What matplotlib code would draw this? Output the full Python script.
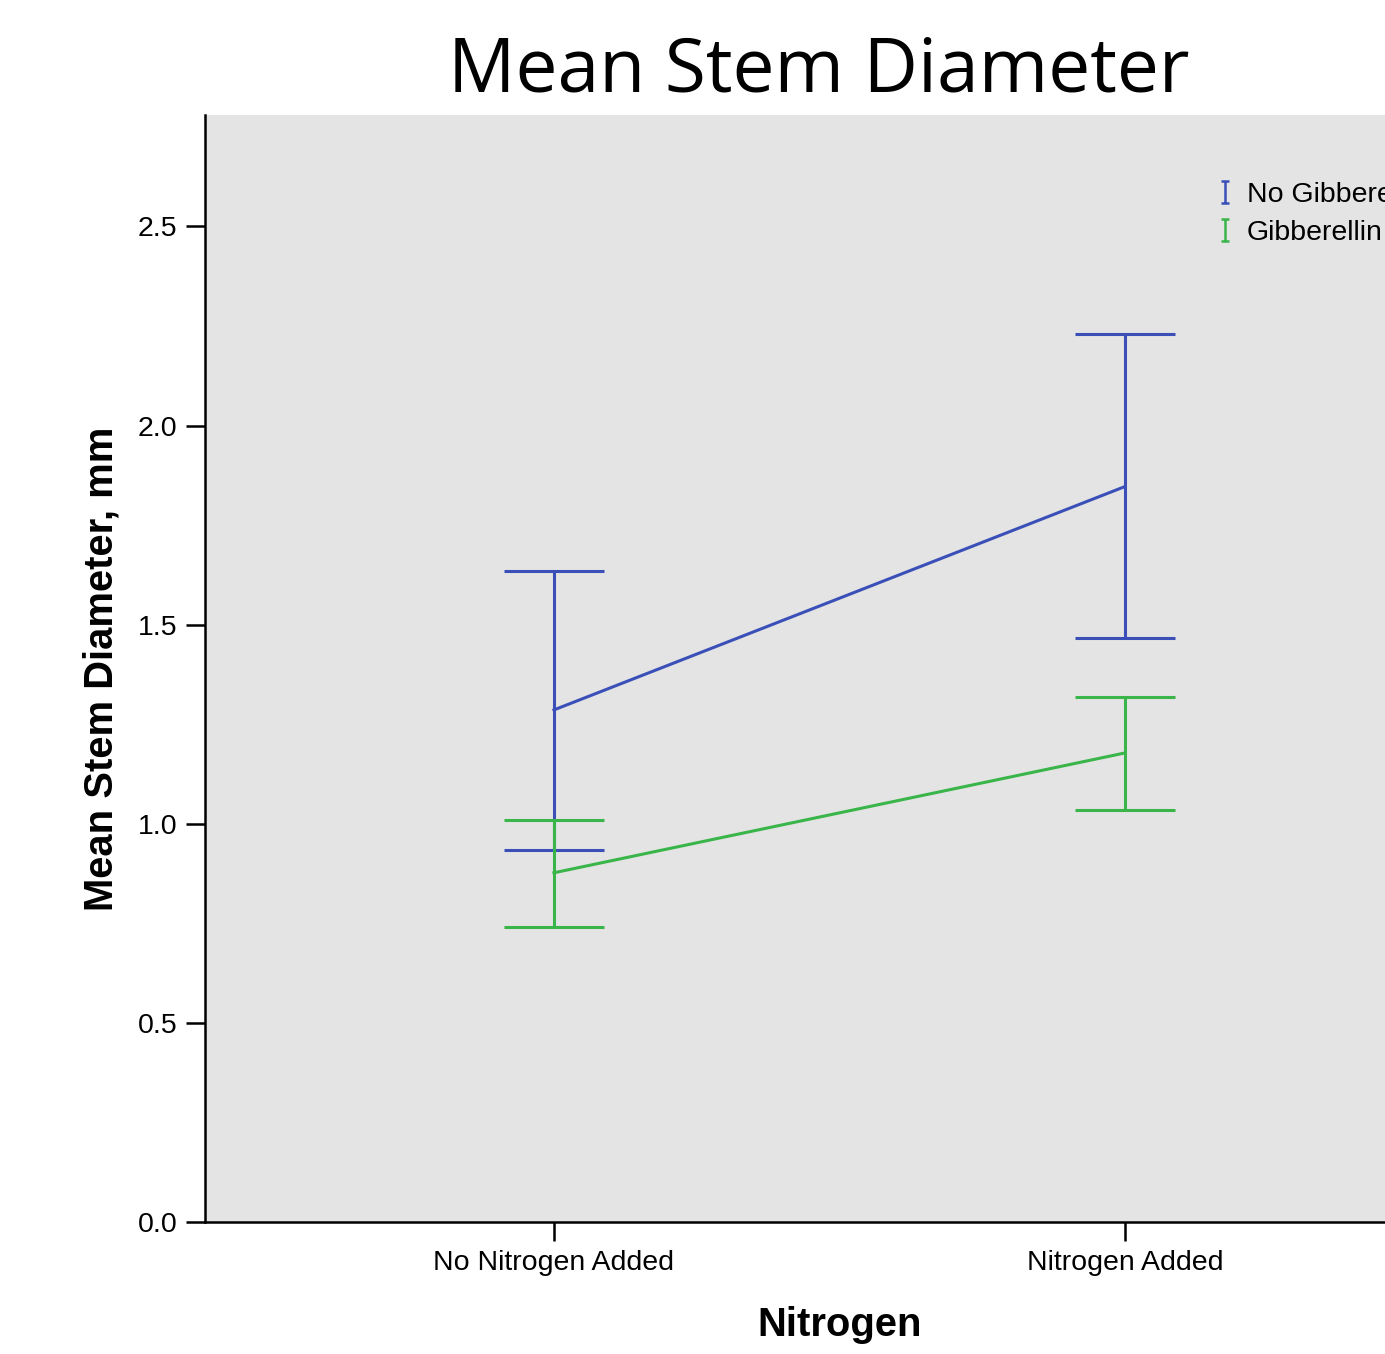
import matplotlib
matplotlib.use("Agg")
import matplotlib.pyplot as plt
from matplotlib.path import Path
from matplotlib.lines import Line2D
import numpy as np

# data
categories = ["No Nitrogen Added", "Nitrogen Added"]
series_names = ["No Gibberellin", "Gibberellin"]
means_nogib = [1.286, 1.847]
upper_nogib = [1.636, 2.231]
lower_nogib = [0.935, 1.467]
means_gib = [0.877, 1.178]
upper_gib = [1.010, 1.319]
lower_gib = [0.741, 1.035]
yticks = [0.0, 0.5, 1.0, 1.5, 2.0, 2.5]

blue = "#3a50b8"
green = "#3ab54a"

plt.rcParams['font.family'] = ['Liberation Sans', 'DejaVu Sans']

fig = plt.figure(figsize=(13.85, 13.54), dpi=100)
# axes runs past the right edge of the picture, as in the reference
ax = fig.add_axes([205/1385, 132/1354, 1269/1385, 1107/1354])
ax.set_facecolor("#e4e4e4")

# "I" shaped symbol for the legend
ibar = Path([(-0.35, 1), (0.35, 1), (0, 1), (0, -1), (-0.35, -1), (0.35, -1)],
            [Path.MOVETO, Path.LINETO, Path.MOVETO, Path.LINETO, Path.MOVETO, Path.LINETO])

x = np.arange(len(categories))
handles = []
for means, up, lo, col, name in [(means_nogib, upper_nogib, lower_nogib, blue, series_names[0]),
                                 (means_gib, upper_gib, lower_gib, green, series_names[1])]:
    means = np.array(means)
    yerr = [means - np.array(lo), np.array(up) - means]
    ax.plot(x, means, color=col, linewidth=2.2)
    ax.errorbar(x, means, yerr=yerr, fmt='none', ecolor=col, elinewidth=2.2,
                capsize=36, capthick=2.2)
    handles.append(Line2D([], [], color=col, marker=ibar, markersize=16,
                          markeredgewidth=1.8, linestyle='none', label=name))

ax.set_xlim(-0.611, 1.611)
ax.set_ylim(0, 2.78)
ax.set_xticks(x)
ax.set_xticklabels(categories, fontsize=20.5)
ax.set_yticks(yticks)
ax.set_yticklabels([f"{v:.1f}" for v in yticks], fontsize=20.5)
ax.tick_params(length=14, width=1.8, direction='out', pad=6)

for s in ["top", "right"]:
    ax.spines[s].set_visible(False)
for s in ["left", "bottom"]:
    ax.spines[s].set_linewidth(1.8)

ax.set_xlabel("Nitrogen", fontsize=28.8, fontweight='bold', labelpad=22)
ax.set_ylabel("Mean Stem Diameter, mm", fontsize=28.8, fontweight='bold', labelpad=12)

fig.text(819/1385, 1 - 92/1354, "Mean Stem Diameter", fontsize=54,
         family=['Open Sans', 'DejaVu Sans'], ha='center', va='baseline')

ax.legend(handles=handles, loc='upper left', bbox_to_anchor=(1202/1385, 1 - 168/1354),
          bbox_transform=fig.transFigure, frameon=False, fontsize=20.5,
          handlelength=0.6, handletextpad=0.47, borderpad=0, labelspacing=0.42)

fig.savefig("out.png", dpi=100)
